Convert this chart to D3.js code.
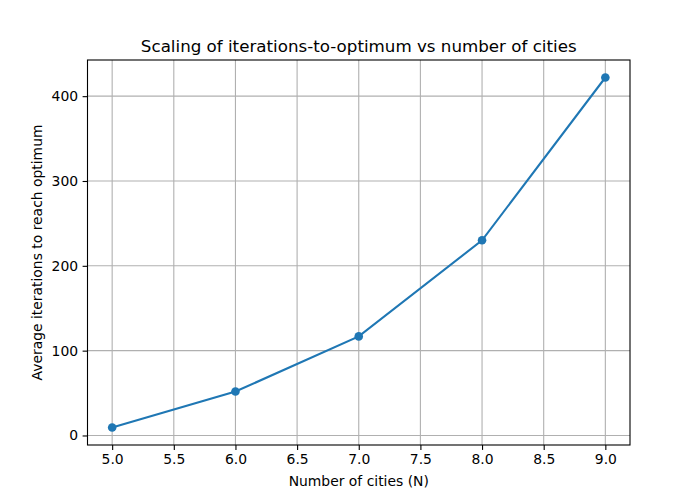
<!DOCTYPE html>
<html>
<head>
<meta charset="utf-8">
<script src="https://cdn.jsdelivr.net/npm/d3@7"></script>
<style>
  body { margin: 0; background: #fff; }
  text { font-family: "DejaVu Sans", sans-serif; }
</style>
</head>
<body>
<svg id="chart" width="700" height="500"></svg>
<script>
// data
const cities = [5, 6, 7, 8, 9];
const avgIterations = [9.4, 51.8, 116.8, 230.1, 422];
const xTicks = [5.0, 5.5, 6.0, 6.5, 7.0, 7.5, 8.0, 8.5, 9.0];
const yTicks = [0, 100, 200, 300, 400];

const svg = d3.select('#chart');
const margin = {left: 87.5, right: 70, top: 60, bottom: 55};
const w = 700 - margin.left - margin.right;
const h = 500 - margin.top - margin.bottom;

// matplotlib-style 5% padding
let pad = (lo, hi) => { let m = (hi - lo) * 0.05; return [lo - m, hi + m]; };

const xScale = d3.scaleLinear()
    .domain(pad(d3.min(cities), d3.max(cities)))
    .range([0, w]);
const yScale = d3.scaleLinear()
    .domain(pad(d3.min(avgIterations), d3.max(avgIterations)))
    .range([h, 0]);

const g = svg.append('g').attr('transform', `translate(${margin.left},${margin.top})`);

// grid
g.append('g').selectAll('line')
    .data(xTicks).enter().append('line')
    .attr('x1', d => xScale(d)).attr('x2', d => xScale(d))
    .attr('y1', 0).attr('y2', h)
    .style('stroke', '#b0b0b0').style('stroke-width', 1.1);
g.append('g').selectAll('line')
    .data(yTicks).enter().append('line')
    .attr('x1', 0).attr('x2', w)
    .attr('y1', d => yScale(d)).attr('y2', d => yScale(d))
    .style('stroke', '#b0b0b0').style('stroke-width', 1.1);

// axes
const xAxis = g.append('g').attr('transform', `translate(0,${h})`)
    .call(d3.axisBottom(xScale).tickValues(xTicks).tickFormat(d3.format('.1f')).tickSize(4.9).tickPadding(4.5));
const yAxis = g.append('g')
    .call(d3.axisLeft(yScale).tickValues(yTicks).tickFormat(d3.format('d')).tickSize(4.9).tickPadding(4.5));
[xAxis, yAxis].forEach(a => {
  a.select('.domain').remove();
  a.selectAll('.tick line').style('stroke', '#000').style('stroke-width', 1.1);
  a.selectAll('.tick text').style('font-size', '13.9px').style('fill', '#000')
      .style('font-family', '"DejaVu Sans", sans-serif');
});

// line + markers
const pts = cities.map((c, i) => ({x: c, y: avgIterations[i]}));
g.append('path')
    .datum(pts)
    .attr('d', d3.line().x(d => xScale(d.x)).y(d => yScale(d.y)))
    .style('fill', 'none')
    .style('stroke', '#1f77b4')
    .style('stroke-width', 2.08);
g.selectAll('.point')
    .data(pts).enter().append('circle')
    .attr('class', 'point')
    .attr('cx', d => xScale(d.x))
    .attr('cy', d => yScale(d.y))
    .attr('r', 4.3)
    .style('fill', '#1f77b4');

// frame
g.append('rect')
    .attr('x', 0).attr('y', 0).attr('width', w).attr('height', h)
    .style('fill', 'none').style('stroke', '#000').style('stroke-width', 1.1);

// labels
svg.append('text')
    .attr('x', margin.left + w / 2).attr('y', margin.top - 8.5)
    .attr('text-anchor', 'middle')
    .style('font-size', '16.7px')
    .text('Scaling of iterations-to-optimum vs number of cities');
svg.append('text')
    .attr('x', margin.left + w / 2).attr('y', 486)
    .attr('text-anchor', 'middle')
    .style('font-size', '13.9px')
    .text('Number of cities (N)');
svg.append('text')
    .attr('transform', `translate(42,${margin.top + h / 2}) rotate(-90)`)
    .attr('text-anchor', 'middle')
    .style('font-size', '13.9px')
    .text('Average iterations to reach optimum');
</script>
</body>
</html>
